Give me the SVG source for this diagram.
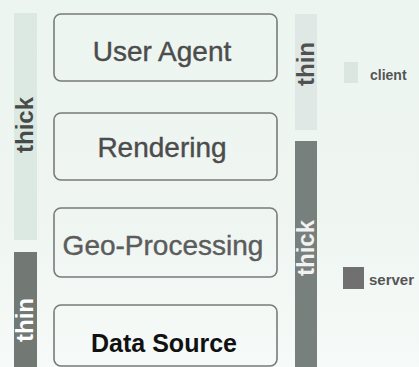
<svg xmlns="http://www.w3.org/2000/svg" width="419" height="367" viewBox="0 0 419 367">
<style>
.box{fill:none;stroke:#7a7a7a;stroke-width:1.6}
.lbl{font-family:"Liberation Sans",Arial,sans-serif;font-size:28px;fill:#4c4c4c;stroke:#4c4c4c;stroke-width:0.4;text-anchor:middle}
.bar{font-family:"Liberation Sans",Arial,sans-serif;font-size:24px;font-weight:bold;text-anchor:middle}
.leg{font-family:"Liberation Sans",Arial,sans-serif;font-weight:bold;fill:#555}
</style>
<defs>
<linearGradient id="bg" x1="0" y1="0" x2="0" y2="1">
<stop offset="0" stop-color="#edf5f1"/>
<stop offset="0.6" stop-color="#eff6f2"/>
<stop offset="1" stop-color="#f6faf8"/>
</linearGradient>
</defs>
<rect width="419" height="367" fill="url(#bg)"/>
<g id="left-bar">
<rect x="14" y="13" width="23" height="227" fill="#dce8e2"/>
<rect x="14" y="252" width="23" height="115" fill="#727874"/>
<text class="bar" transform="translate(33,125) rotate(-90)" fill="#474a48">thick</text>
<text class="bar" transform="translate(33,320) rotate(-90)" fill="#ffffff">thin</text>
</g>
<g id="right-bar">
<rect x="295" y="14" width="22" height="116" fill="#dfe8e4"/>
<rect x="295" y="141" width="22" height="226" fill="#78807d"/>
<text class="bar" transform="translate(314,64) rotate(-90)" fill="#4f5250">thin</text>
<text class="bar" transform="translate(314,248) rotate(-90)" fill="#f2f2f2">thick</text>
</g>
<g id="user-agent">
<rect class="box" x="54" y="14" width="223" height="67" rx="7"/>
<text class="lbl" x="162" y="61">User Agent</text>
</g>
<g id="rendering">
<rect class="box" x="54" y="113" width="223" height="67" rx="7"/>
<text class="lbl" x="162" y="157">Rendering</text>
</g>
<g id="geo-processing">
<rect class="box" x="54" y="208" width="223" height="69" rx="7"/>
<text class="lbl" x="163" y="255" style="fill:#5c5c5c;stroke:#5c5c5c">Geo-Processing</text>
</g>
<g id="data-source">
<rect class="box" x="54" y="305" width="223" height="61" rx="7" stroke="#333"/>
<text class="lbl" x="164" y="352" style="font-weight:bold;font-size:25px;fill:#111;stroke:none">Data Source</text>
</g>
<g id="legend">
<rect x="344" y="62" width="14" height="21" fill="#dbe6e1"/>
<text class="leg" x="370" y="80" font-size="14">client</text>
<rect x="343" y="267" width="21" height="22" fill="#707070"/>
<text class="leg" x="369" y="285" font-size="15" fill="#333">server</text>
</g>
</svg>
